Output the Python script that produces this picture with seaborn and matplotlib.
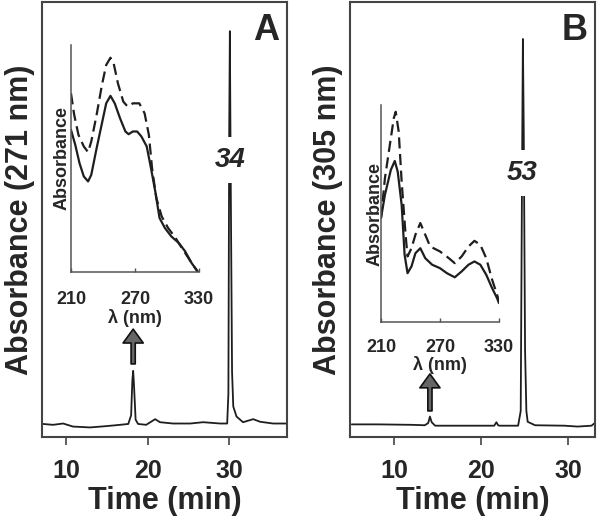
import matplotlib
matplotlib.use("Agg")
import matplotlib.pyplot as plt
import seaborn as sns

sns.set_theme(style="white")
plt.rcParams['font.family'] = ['Liberation Sans', 'DejaVu Sans']
plt.rcParams['font.weight'] = 'bold'

# chromatogram A, detection at 271 nm (relative absorbance)
time_a = [7.1, 8.35, 9.6, 10.8, 12.9, 14.9, 16.6, 17.6, 17.95, 18.1, 18.2, 18.3, 18.5,
          18.8, 19.8, 20.9, 21.5, 23.1, 25.2, 26.8, 28.9, 29.75, 29.9, 30.0, 30.08,
          30.2, 30.35, 30.5, 30.9, 31.7, 32.95, 33.8, 35.4, 37.2]
abs_a = [0.030, 0.028, 0.031, 0.024, 0.022, 0.025, 0.028, 0.030, 0.05, 0.13, 0.152, 0.12, 0.04,
         0.030, 0.028, 0.041, 0.034, 0.031, 0.031, 0.034, 0.031, 0.031, 0.10, 0.70, 0.933,
         0.55, 0.15, 0.07, 0.047, 0.034, 0.041, 0.035, 0.031, 0.031]

# chromatogram B, detection at 305 nm
time_b = [5.1, 8.2, 12.0, 13.5, 13.9, 14.1, 14.3, 14.7, 17.7, 21.2, 21.5, 21.75, 21.95,
          22.1, 24.25, 24.55, 24.7, 24.8, 24.9, 25.05, 25.2, 25.35, 26.2, 29.6, 31.1,
          32.7, 33.0]
abs_b = [0.029, 0.029, 0.028, 0.027, 0.032, 0.047, 0.034, 0.026, 0.026, 0.026, 0.026, 0.034, 0.027,
         0.026, 0.026, 0.06, 0.60, 0.915, 0.70, 0.20, 0.06, 0.035, 0.027, 0.026, 0.024,
         0.026, 0.031]

# inset spectra A (peak at 18 min, solid and dashed)
wl_a_solid = [210, 214, 218, 222, 226, 229, 234, 239, 243, 247, 251, 256, 261, 264,
              268, 272, 276, 281, 285, 289, 293, 298, 304, 311, 317, 323, 329]
sp_a_solid = [0.626, 0.560, 0.479, 0.421, 0.399, 0.428, 0.545, 0.655, 0.743, 0.776, 0.743,
              0.677, 0.619, 0.607, 0.619, 0.619, 0.597, 0.553, 0.457, 0.355, 0.238, 0.194,
              0.157, 0.128, 0.091, 0.040, 0.0]
wl_a_dash = [210, 213, 217, 222, 226, 229, 234, 239, 243, 247, 250, 254, 259, 263,
             268, 274, 279, 283, 286, 290, 295, 301, 308, 312, 317, 323, 329]
sp_a_dash = [0.787, 0.692, 0.604, 0.553, 0.528, 0.575, 0.692, 0.824, 0.912, 0.944, 0.919,
             0.831, 0.751, 0.729, 0.743, 0.743, 0.699, 0.604, 0.457, 0.326, 0.245, 0.194,
             0.150, 0.120, 0.084, 0.040, 0.0]

# inset spectra B (peak at 14 min)
wl_b_solid = [210, 214, 220, 224, 227, 231, 234, 237, 241, 245, 250, 255, 262, 270,
              277, 285, 292, 299, 305, 311, 317, 323, 328, 330]
sp_b_solid = [0.479, 0.586, 0.701, 0.742, 0.693, 0.540, 0.310, 0.225, 0.256, 0.317, 0.340,
              0.294, 0.264, 0.248, 0.225, 0.206, 0.233, 0.264, 0.279, 0.264, 0.218, 0.156,
              0.110, 0.087]
wl_b_dash = [210, 214, 220, 223, 225, 228, 231, 235, 237, 241, 245, 250, 255, 260,
             270, 279, 285, 292, 299, 305, 311, 317, 323, 328, 330]
sp_b_dash = [0.479, 0.663, 0.847, 0.939, 0.969, 0.877, 0.647, 0.402, 0.302, 0.340, 0.402,
             0.456, 0.402, 0.348, 0.325, 0.294, 0.271, 0.302, 0.348, 0.374, 0.356, 0.294,
             0.195, 0.126, 0.095]

time_ticks = [10, 20, 30]
wl_ticks = [210, 270, 330]

W, H = 600, 528
fig = plt.figure(figsize=(W / 100, H / 100), dpi=100)


def px_axes(l, t, r, b):
    # axes box given in pixels from the top-left corner
    return fig.add_axes([l / W, 1 - b / H, (r - l) / W, (b - t) / H])


def main_panel(ax, t, a, xlim, ylabel, letter, letter_x, peak, arrow):
    sns.lineplot(x=t, y=a, ax=ax, color='#1e1e1e', lw=1.3, estimator=None, sort=False)
    ax.set_xlim(*xlim)
    ax.set_ylim(0, 1)
    ax.set_xticks(time_ticks)
    ax.set_yticks([])
    ax.tick_params(axis='x', direction='out', length=6, width=1.2, color='#444444',
                   labelsize=18, pad=10, bottom=True)
    for s in ax.spines.values():
        s.set_color('#444444')
        s.set_linewidth(1.5)
    ax.set_xlabel('Time (min)', fontsize=22, fontweight='bold', labelpad=2)
    ax.set_ylabel(ylabel, fontsize=22, fontweight='bold', labelpad=5)
    ax.text(letter_x, 0.913, letter, transform=ax.transAxes, fontsize=26,
            fontweight='bold', ha='center', va='baseline')
    # compound number over the main peak
    px, py, label = peak
    ax.text(px, py, label, fontsize=20, fontweight='bold', style='italic',
            ha='center', va='baseline',
            bbox=dict(facecolor='white', edgecolor='none', boxstyle='square,pad=0.35'))
    ax_x, y0, y1 = arrow
    ax.annotate('', xy=(ax_x, y1), xytext=(ax_x, y0),
                arrowprops=dict(arrowstyle='simple,head_width=1.45,head_length=1.0,tail_width=0.3',
                                mutation_scale=10, fc='#666666', ec='#111111', lw=1.2,
                                shrinkA=0, shrinkB=0))


def inset(ax, ws, ss, wd, sd, tick_pad, label_pad, ylab_pad):
    ax.set_facecolor('none')
    sns.lineplot(x=ws, y=ss, ax=ax, color='#1e1e1e', lw=1.6, estimator=None, sort=False)
    sns.lineplot(x=wd, y=sd, ax=ax, color='#1e1e1e', lw=1.6, estimator=None, sort=False,
                 linestyle=(0, (5, 2.5)))
    ax.set_xlim(210, 330)
    ax.set_ylim(0, 1)
    ax.set_xticks(wl_ticks)
    ax.set_yticks([])
    ax.tick_params(axis='x', direction='in', length=3, width=1, color='#555555',
                   labelsize=13, pad=tick_pad, bottom=True)
    ax.spines['top'].set_visible(False)
    ax.spines['right'].set_visible(False)
    for k in ('left', 'bottom'):
        ax.spines[k].set_color('#555555')
        ax.spines[k].set_linewidth(1.1)
    ax.set_xlabel('λ (nm)', fontsize=13, fontweight='bold', labelpad=label_pad)
    ax.set_ylabel('Absorbance', fontsize=13, fontweight='bold', labelpad=ylab_pad)


ax_a = px_axes(42, 2, 287, 437)
ax_b = px_axes(350, 2, 595, 437)
main_panel(ax_a, time_a, abs_a, (7, 37.1), 'Absorbance (271 nm)', 'A', 0.914,
           (30.15, 0.621, '34'), (18.2, 0.168, 0.248))
main_panel(ax_b, time_b, abs_b, (4.9, 33.1), 'Absorbance (305 nm)', 'B', 0.918,
           (24.74, 0.591, '53'), (14.1, 0.06, 0.145))

ins_a = px_axes(71, 45, 199, 272)
ins_b = px_axes(381, 105, 499, 322)
inset(ins_a, wl_a_solid, sp_a_solid, wl_a_dash, sp_a_dash, 13.5, 1, 0.5)
inset(ins_b, wl_b_solid, sp_b_solid, wl_b_dash, sp_b_dash, 12, 0, -2)

fig.savefig('out.png', dpi=100, facecolor='white')
